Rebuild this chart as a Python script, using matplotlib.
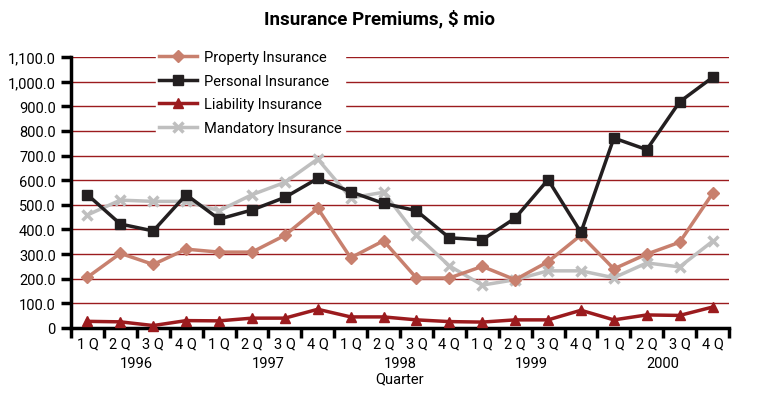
import matplotlib
matplotlib.use("Agg")
import matplotlib.pyplot as plt
from matplotlib.ticker import FuncFormatter
import matplotlib.transforms as mtransforms

plt.rcParams['font.family'] = ['Roboto', 'DejaVu Sans']

# data
quarters = ['1 Q', '2 Q', '3 Q', '4 Q'] * 5
years = ['1996', '1997', '1998', '1999', '2000']

property_ins = [206, 303, 258, 320, 308, 308, 376, 486, 285, 354, 203, 203, 250, 196, 269, 377, 240, 300, 348, 546]
personal_ins = [541, 422, 394, 541, 442, 479, 530, 607, 553, 506, 476, 366, 358, 446, 602, 388, 771, 724, 918, 1017]
liability_ins = [27, 25, 10, 30, 29, 40, 40, 76, 45, 45, 33, 26, 24, 33, 33, 72, 33, 53, 51, 85]
mandatory_ins = [459, 519, 514, 514, 476, 541, 591, 686, 528, 551, 377, 252, 174, 196, 232, 232, 204, 264, 248, 352]

fig = plt.figure(figsize=(7.58, 4.06), dpi=100)
ax = fig.add_axes([71 / 758, 1 - 329 / 406, (729 - 71) / 758, (329 - 58) / 406])

x = list(range(len(quarters)))
grid_red = '#9b1b1e'

ax.plot(x, property_ins, color='#c8806e', lw=2.5, marker='D', ms=6, label='Property Insurance', clip_on=False, zorder=3)
ax.plot(x, personal_ins, color='#231f20', lw=2.5, marker='s', ms=7.5, label='Personal Insurance', clip_on=False, zorder=4)
ax.plot(x, liability_ins, color='#9b1b1e', lw=2.5, marker='^', ms=7.5, label='Liability Insurance', clip_on=False, zorder=3)
ax.plot(x, mandatory_ins, color='#bfbfbf', lw=2.5, marker='x', ms=7, mew=2.5, label='Mandatory Insurance', clip_on=False, zorder=2)

ax.set_xlim(-0.5, 19.5)
ax.set_ylim(0, 1100)
ax.set_yticks(range(0, 1101, 100))
ax.yaxis.set_major_formatter(FuncFormatter(lambda v, p: '0' if v == 0 else f'{v:,.1f}'))
for yv in range(100, 1101, 100):
    ax.axhline(yv, color=grid_red, lw=1, zorder=1)

# category labels, ticks between categories
ax.set_xticks([i + 0.5 for i in x[:-1]] + [-0.5, 19.5])
ax.set_xticklabels([])
ax.set_xticks(x, minor=True)
ax.set_xticklabels(quarters, minor=True)
ax.tick_params(axis='x', which='minor', length=0, pad=6, labelsize=10.5)
ax.tick_params(axis='x', which='major', length=7, width=2.5, direction='out')
ax.tick_params(axis='y', length=7, width=2.5, direction='out', labelsize=10.5, pad=4)

trans = mtransforms.blended_transform_factory(ax.transData, ax.transAxes)
for i, yr in enumerate(years):
    ax.text(i * 4 + 1.5, -0.13, yr, transform=trans, ha='center', va='center', fontsize=10.5)
ax.text(9.5, -0.185, 'Quarter', transform=trans, ha='center', va='center', fontsize=10.5)

for s in ['top', 'right']:
    ax.spines[s].set_visible(False)
ax.spines['left'].set_linewidth(2.5)
ax.spines['bottom'].set_linewidth(2.5)

leg = ax.legend(loc='upper left', bbox_to_anchor=(0.118, 1.062), frameon=True, fancybox=False,
                edgecolor='white', facecolor='white', framealpha=1, fontsize=10.5,
                handlelength=2.6, handletextpad=0.5, labelspacing=0.65, borderpad=0.2)
leg.set_zorder(5)

fig.suptitle('Insurance Premiums, $ mio', x=0.5, y=0.975, fontsize=13.5, fontweight='bold')

fig.savefig('out.png', dpi=100)
